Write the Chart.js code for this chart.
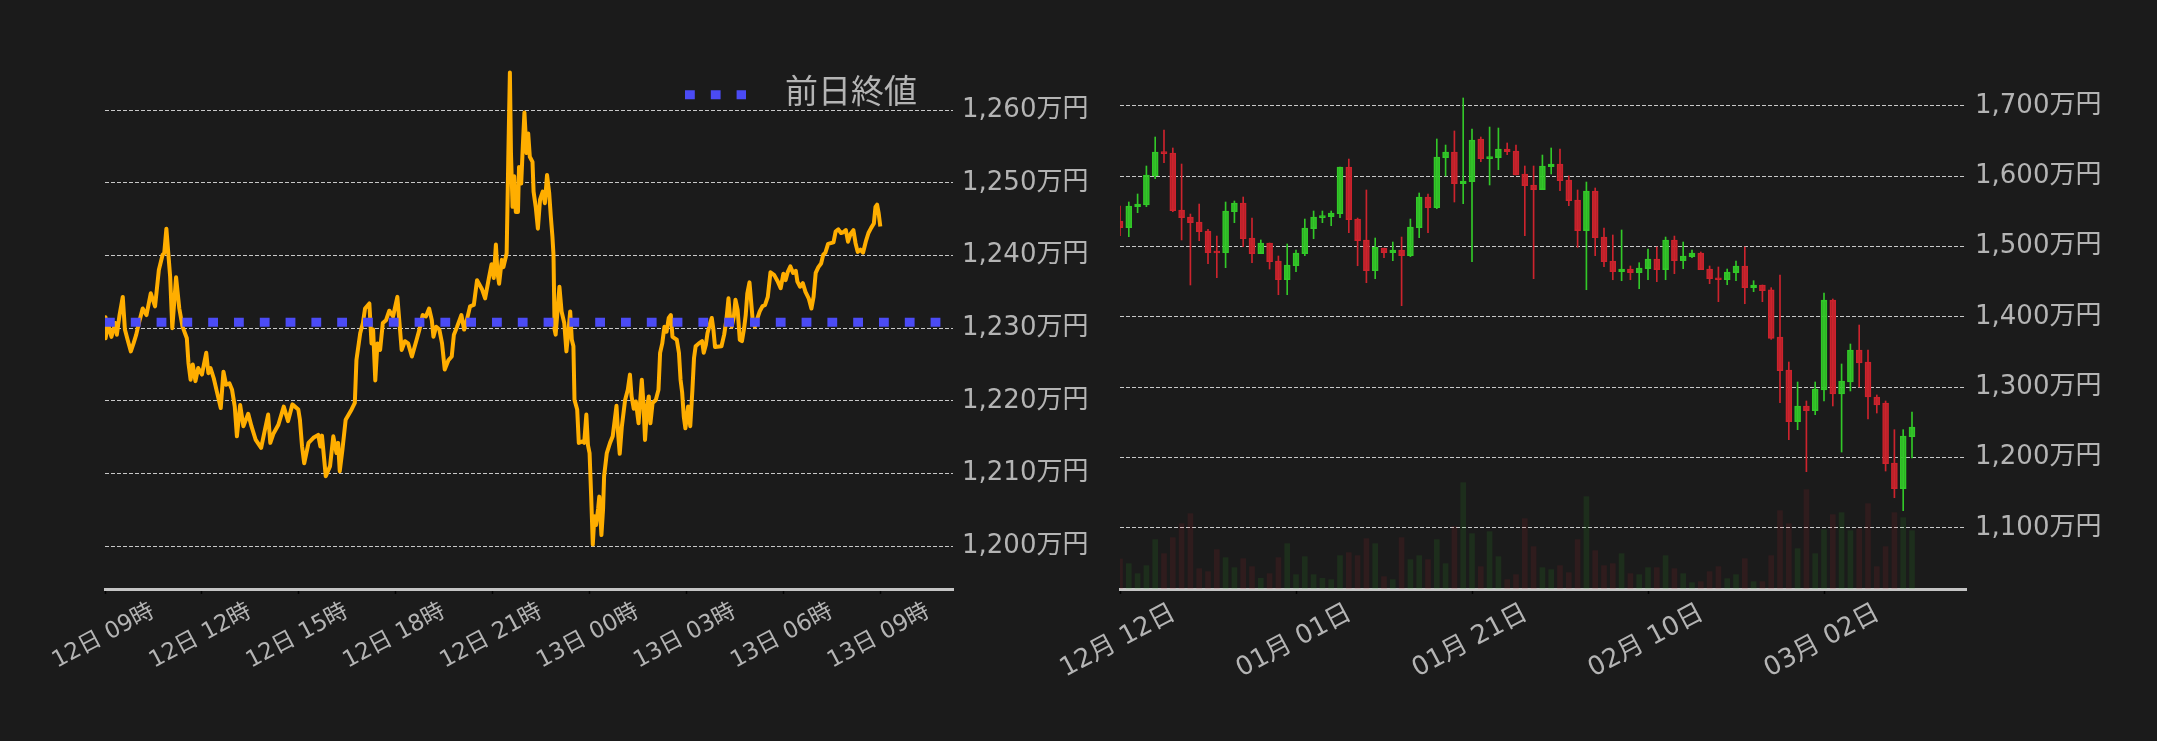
<!DOCTYPE html>
<html lang="ja">
<head>
<meta charset="utf-8">
<title>BTC/JPY</title>
<script src="https://cdn.jsdelivr.net/npm/chart.js@4.4.1/dist/chart.umd.min.js"></script>
<style>
  html, body { margin: 0; padding: 0; background: #1b1b1b; }
  body { width: 2157px; height: 741px; position: relative; overflow: hidden; }
  canvas { position: absolute; left: 0; top: 0; }
</style>
</head>
<body>
<canvas id="dayChart" width="2157" height="741"></canvas>
<canvas id="candleChart" width="2157" height="741"></canvas>
<script>
// Intraday: minutes after 12日 09:00, price in 万円
const minutes = [0,1,6,12,19,22,27,33,37,42,48,53,58,63,70,77,85,93,100,107,110,114,118,121,125,132,138,144,152,155,
  159,163,168,173,180,188,192,196,202,207,215,220,225,231,236,241,245,251,257,266,272,280,290,297,303,307,313,322,332,340,
  348,359,362,366,370,378,387,396,400,403,410,418,424,430,433,436,441,447,458,464,467,474,479,483,491,495,498,502,506,511,
  516,522,528,535,543,547,551,557,563,570,578,584,590,596,602,607,610,615,621,626,631,638,644,648,654,662,667,672,678,685,
  691,700,706,713,718,722,726,729,732,737,740,746,749,752,754,757,760,763,767,769,773,776,779,783,786,789,794,796,800,804,
  808,813,817,821,825,828,831,833,835,837,844,848,853,857,861,864,867,870,872,877,880,887,890,894,897,900,903,906,909,912,
  916,918,922,925,927,932,938,943,946,950,953,956,960,966,971,975,978,982,986,991,994,997,1000,1003,1007,1010,1013,1017,1023,1028,
  1031,1035,1039,1043,1047,1051,1054,1062,1066,1069,1072,1075,1078,1083,1087,1091,1094,1097,1103,1109,1112,1116,1119,1124,1127,1130,1133,1145,1150,1154,
  1158,1161,1164,1168,1171,1175,1179,1183,1187,1190,1193,1197,1200,1203,1207,1211,1216,1221,1226,1231,1236,1243,1249,1255,1260,1264,1268,1273,1278,1283,
  1286,1291,1296,1301,1307,1312,1316,1320,1325,1330,1334,1338,1343,1348,1353,1357,1362,1367,1371,1376,1380,1385,1390,1394,1398,1403,1408,1413,1418,1423,
  1428,1431,1434,1437,1440];
const prices = [1231.5,1228.6,1230.5,1228.8,1230.7,1229.1,1231.8,1234.3,1229.8,1228.4,1226.8,1227.9,1229.1,1230.7,1232.7,1231.8,1234.8,1233.0,1238.0,1240.1,
  1240.3,1243.7,1239.9,1237.1,1230.0,1237.0,1232.7,1230.2,1228.6,1225.2,1222.9,1225.0,1222.7,1224.5,1223.6,1226.6,1223.8,1224.5,1223.1,1221.5,
  1219.0,1224.0,1222.2,1222.4,1221.5,1219.2,1215.1,1219.4,1216.5,1218.2,1216.5,1214.6,1213.5,1216.0,1218.1,1214.2,1215.5,1216.7,1219.2,1217.2,
  1219.5,1218.8,1217.4,1213.7,1211.4,1214.2,1214.9,1215.3,1213.7,1215.2,1209.6,1211.0,1215.1,1212.8,1214.2,1210.3,1213.3,1217.4,1218.8,1219.7,
  1225.6,1229.3,1230.7,1232.7,1233.4,1227.9,1229.8,1222.8,1227.9,1227.0,1230.7,1231.1,1232.4,1231.6,1234.3,1230.7,1227.0,1228.2,1227.9,1226.1,
  1228.2,1229.8,1231.8,1231.6,1232.7,1231.1,1228.8,1230.2,1229.8,1227.9,1224.3,1225.6,1226.1,1229.1,1230.2,1231.8,1229.8,1231.1,1233.0,1233.2,
  1236.6,1235.4,1234.1,1236.9,1238.8,1236.9,1241.5,1237.6,1236.1,1239.4,1238.4,1240.3,1253.2,1265.2,1254.1,1246.7,1250.9,1246.0,1246.0,1252.2,
  1249.9,1255.0,1259.7,1254.1,1256.8,1253.6,1252.9,1248.8,1246.7,1243.7,1247.7,1248.8,1247.2,1251.1,1248.6,1245.4,1242.6,1240.1,1229.8,1229.1,
  1235.7,1232.3,1230.7,1226.8,1229.8,1232.3,1228.4,1227.5,1220.1,1218.8,1214.2,1214.4,1214.2,1218.1,1213.9,1212.8,1206.8,1200.2,1204.1,1202.9,
  1205.2,1206.8,1201.5,1205.0,1209.6,1212.8,1214.2,1215.1,1216.9,1219.3,1215.5,1212.7,1216.5,1220.1,1221.5,1223.6,1220.6,1218.9,1219.9,1216.9,
  1219.9,1222.9,1219.7,1214.6,1219.2,1220.6,1216.9,1219.7,1220.1,1221.5,1226.6,1227.9,1230.2,1229.5,1231.4,1231.8,1228.8,1228.4,1226.6,1222.9,
  1221.1,1217.8,1216.2,1219.2,1216.5,1221.5,1225.9,1227.5,1227.9,1228.2,1226.6,1227.7,1229.3,1230.7,1231.4,1229.8,1227.4,1227.5,1229.1,1231.1,
  1234.1,1231.4,1230.2,1231.6,1233.9,1232.5,1228.4,1228.2,1230.0,1231.8,1234.8,1236.3,1233.7,1231.1,1230.2,1231.2,1232.3,1233.0,1233.2,1234.3,
  1237.7,1237.3,1236.5,1235.5,1237.5,1236.6,1237.7,1238.5,1237.6,1237.9,1236.4,1235.7,1236.2,1235.0,1234.1,1232.7,1234.3,1237.6,1238.4,1238.9,
  1240.1,1240.4,1241.6,1241.7,1241.8,1243.3,1243.6,1243.1,1243.2,1243.5,1241.9,1243.0,1243.5,1241.7,1240.5,1240.8,1240.4,1241.9,1243.1,1243.8,
  1244.4,1246.7,1247.0,1245.8,1244.0];
const prevClose = 1230.8;
const dayTicks = [0, 180, 360, 540, 720, 900, 1080, 1260, 1440];
const dayTickLabels = ['12日 09時', '12日 12時', '12日 15時', '12日 18時', '12日 21時', '13日 00時', '13日 03時', '13日 06時', '13日 09時'];
const dayYTicks = [1200, 1210, 1220, 1230, 1240, 1250, 1260];

// Daily candles, day 0 = 12月12日, price in 万円
const opens = [1536.5,1527,1556.9,1559.2,1600.5,1634.6,1633.2,1552.1,1542.2,1535,1522.2,1492.4,1491.4,1549.7,1562.1,1512.3,1490,1505.2,1479.6,1453,
  1472.9,1490,1525.6,1541.2,1542.6,1546.9,1613.3,1539.3,1509.5,1465.8,1498.1,1491.4,1495.2,1487.2,1527,1570.6,1555.4,1626.5,1634.6,1589.6,
  1592.4,1653.1,1625.1,1626.5,1638.9,1636,1603.3,1587.7,1581,1613.7,1617.5,1594.8,1566.3,1522.7,1579.1,1513.7,1479.6,1464.4,1468.2,1463,
  1468.7,1482.4,1467.3,1509.5,1480.1,1485.8,1490.9,1468.2,1455.4,1453,1463,1472.5,1441.7,1445.5,1438.8,1371.5,1324.6,1251.2,1273.5,1266.8,
  1296.2,1424.1,1290.5,1307.6,1353.1,1336,1286.3,1277.7,1192.4,1155.9,1229.8];
const highs = [1557.8,1563.5,1574.9,1614.7,1655.9,1665.9,1640.3,1617.5,1546.4,1560.6,1524.6,1515.1,1563.5,1564.9,1570.6,1540.7,1509.5,1505.2,1486.7,1503.8,
  1495.2,1539.3,1550.7,1550.7,1550.7,1613.3,1624.6,1540.7,1580.6,1512.3,1498.1,1506.6,1513.7,1539.3,1576.3,1574.9,1653.1,1644.5,1664.5,1711.4,
  1667.3,1655.9,1670.1,1668.7,1647.4,1644.5,1614.7,1614.7,1630.3,1640.3,1638.9,1600.5,1580.6,1591.9,1583.4,1526.5,1516.6,1523.7,1472.5,1477.2,
  1496.7,1499.5,1513.7,1515.1,1506.6,1495.2,1492.4,1472.5,1471.1,1468.2,1479.6,1499.5,1451.6,1445.5,1441.7,1459.7,1336,1307.6,1280.6,1307.6,
  1434.1,1425.6,1333.2,1361.6,1388.6,1353.1,1289.1,1280.6,1239.8,1239.8,1264.9];
const lows = [1515.6,1514.2,1548.3,1556.9,1596.7,1619.4,1549.7,1509.5,1445.5,1508.5,1475.8,1455.9,1470.1,1534.1,1500,1477.2,1490,1468.2,1431.7,1431.7,
  1464.4,1487.2,1511.3,1534.1,1529.8,1541.2,1519.9,1472.9,1448.8,1454.5,1484.3,1480.1,1416.1,1485.8,1512.8,1519.9,1554,1600.5,1563.5,1561.1,
  1478.6,1620.8,1587.7,1609.5,1630.8,1601.9,1515.6,1454.5,1581,1603.3,1579.6,1558.3,1499,1438.8,1487.2,1471.5,1453,1451.6,1453,1440.2,
  1453,1450.2,1453,1461.6,1468.7,1484.3,1467.3,1447.4,1421.8,1445.9,1451.6,1418.9,1436,1421.8,1368.2,1278.2,1225.6,1239.8,1180.1,1261.1,
  1280.6,1273.5,1208,1294.8,1300.5,1255,1263.5,1181,1143.1,1124.6,1199.5];
const closes = [1527,1557.8,1560.6,1601.9,1634.6,1632.2,1551.2,1541.2,1534.1,1521.3,1491.4,1491,1550.7,1562.1,1511.3,1490,1505.2,1478.6,1453,1473.9,
  1490.9,1526.5,1542.2,1543.6,1547.8,1613.3,1538.4,1508.5,1465.8,1499,1491.4,1495.2,1487.2,1527.9,1570.6,1555.4,1627.5,1634.6,1589.6,1593.4,
  1651.7,1625.1,1627.5,1638.9,1635.1,1601.9,1586.7,1581,1614.7,1617.5,1593.8,1565.4,1522.7,1579.1,1512.8,1478.6,1464.4,1468.2,1463,1469.6,
  1482.4,1467.3,1509.5,1480.1,1486.7,1490.9,1467.3,1454.5,1453,1463.9,1472.5,1441.7,1445.5,1437.4,1369.6,1323.6,1251.2,1273.5,1266.8,1297.6,
  1424.1,1290.5,1309,1353.1,1334.6,1286.3,1274.9,1191.5,1155.9,1230.8,1243.6];
const volumes = [90,76,46,70,148,106,154,196,226,61,52,118,94,64,91,67,32,46,94,136,
  43,97,43,32,28,100,109,100,151,136,37,28,154,88,100,88,148,76,187,319,
  166,67,172,97,28,43,211,127,64,58,70,49,148,277,115,70,76,106,46,43,
  64,64,100,61,46,19,22,52,67,31,43,91,22,22,100,235,196,121,298,106,
  178,223,229,175,181,256,67,127,229,214,175];
const dateTicks = [0, 20, 40, 60, 80];
const dateTickLabels = ['12月 12日', '01月 01日', '01月 21日', '02月 10日', '03月 02日'];
const candleYTicks = [1100, 1200, 1300, 1400, 1500, 1600, 1700];

const FONT = '"DejaVu Sans", "Noto Sans CJK JP", sans-serif';
const TEXT = '#b4b4b4';
const GRID = '#c8c8c8';
const UP = 'rgb(50,200,40)';
const DOWN = 'rgb(205,35,45)';

Chart.defaults.font.family = FONT;
Chart.defaults.color = TEXT;

const yen = v => v.toLocaleString('en-US') + '万円';

// fixed axis sizes so both plot areas land where the picture has them
function fixWidth(w) {
  return s => { s.width = w; s.paddingTop = 0; s.paddingBottom = 0; };
}
function fixHeight(h) {
  return s => { s.height = h; s.paddingLeft = 0; s.paddingRight = 0; };
}

function xAxis(min, max, ticks, labels, size, offset) {
  return {
    type: 'linear', min, max, offset: false,
    afterBuildTicks: s => { s.ticks = ticks.map(v => ({value: v})); },
    afterFit: fixHeight(152),
    ticks: {
      autoSkip: false, minRotation: 28, maxRotation: 28, padding: 4,
      labelOffset: offset, color: TEXT, font: {size},
      callback: v => labels[ticks.indexOf(v)]
    },
    grid: {display: true, drawOnChartArea: false, drawTicks: true, tickLength: 5, tickColor: '#000', tickWidth: 1.5, offset: false},
    border: {display: true, color: '#c4c4c4', width: 3}
  };
}

function yAxis(min, max, ticks, width) {
  return {
    position: 'right', min, max,
    afterBuildTicks: s => { s.ticks = ticks.map(v => ({value: v})); },
    afterFit: fixWidth(width),
    ticks: {padding: 9, color: TEXT, font: {size: 26}, callback: v => yen(v)},
    grid: {color: GRID, lineWidth: 1, drawTicks: false},
    border: {display: false, dash: [4, 2]}
  };
}

// legend for the previous close line, drawn inside the plot like the picture
const prevLegend = {
  id: 'prevLegend',
  afterDatasetsDraw(chart) {
    const ds = chart.data.datasets[0];
    const {ctx, chartArea} = chart;
    ctx.save();
    ctx.font = '33px ' + FONT;
    const w = ctx.measureText(ds.label).width;
    const left = chartArea.right - 36 - w;
    const y = 94;
    ctx.fillStyle = TEXT;
    ctx.textBaseline = 'middle';
    ctx.fillText(ds.label, left, y);
    ctx.strokeStyle = ds.borderColor;
    ctx.lineWidth = ds.borderWidth;
    ctx.setLineDash(ds.borderDash);
    ctx.beginPath();
    ctx.moveTo(left - 100, y + 0.7);
    ctx.lineTo(left - 39, y + 0.7);
    ctx.stroke();
    ctx.restore();
  }
};

const dayMax = 1575;
new Chart(document.getElementById('dayChart'), {
  type: 'line',
  data: {
    datasets: [
      {
        label: '前日終値',
        data: [{x: 0, y: prevClose}, {x: dayMax, y: prevClose}],
        borderColor: '#4b4bf5', borderWidth: 9, borderDash: [9.8, 16], borderCapStyle: 'butt',
        pointRadius: 0, order: 0
      },
      {
        label: '価格',
        data: minutes.map((m, i) => ({x: m, y: prices[i]})),
        borderColor: '#ffae00', borderWidth: 4, borderJoinStyle: 'round',
        pointRadius: 0, tension: 0, order: 1
      }
    ]
  },
  options: {
    responsive: false, animation: false, devicePixelRatio: 1,
    layout: {padding: {left: 105, top: 60, right: 2157 - 953 - 147, bottom: 0}},
    plugins: {legend: {display: false}, tooltip: {enabled: false}},
    scales: {
      x: xAxis(0, dayMax, dayTicks, dayTickLabels, 23, 48),
      y: yAxis(1194.08, 1266.92, dayYTicks, 147)
    }
  },
  plugins: [prevLegend]
});

const up = opens.map((o, i) => closes[i] >= o);
const candleColor = up.map(u => u ? UP : DOWN);
const candleFill = up.map(u => u ? 'rgba(50,200,40,0.85)' : 'rgba(205,35,45,0.85)');
const volColor = up.map(u => u ? 'rgba(50,200,40,0.11)' : 'rgba(205,35,45,0.11)');

new Chart(document.getElementById('candleChart'), {
  type: 'bar',
  data: {
    datasets: [
      {
        label: '出来高', yAxisID: 'yv',
        data: volumes.map((v, i) => ({x: i, y: v})),
        backgroundColor: volColor, barThickness: 5, order: 3
      },
      {
        label: '高安',
        data: highs.map((h, i) => ({x: i, y: [lows[i], h]})),
        backgroundColor: candleColor, barThickness: 1, order: 2
      },
      {
        label: '始終',
        data: opens.map((o, i) => ({x: i, y: [o, closes[i]]})),
        backgroundColor: candleFill, borderColor: candleColor, borderWidth: 1,
        borderSkipped: false, barThickness: 6, minBarLength: 2, order: 1
      }
    ]
  },
  options: {
    responsive: false, animation: false, devicePixelRatio: 1,
    datasets: {bar: {grouped: false}},
    layout: {padding: {left: 1120, top: 60, right: 0, bottom: 0}},
    plugins: {legend: {display: false}, tooltip: {enabled: false}},
    scales: {
      x: xAxis(0, 846 / 8.8, dateTicks, dateTickLabels, 26, 54),
      y: yAxis(1013.27, 1765.4, candleYTicks, 191),
      yv: {display: false, min: 0, max: 1587}
    }
  }
});
</script>
</body>
</html>
